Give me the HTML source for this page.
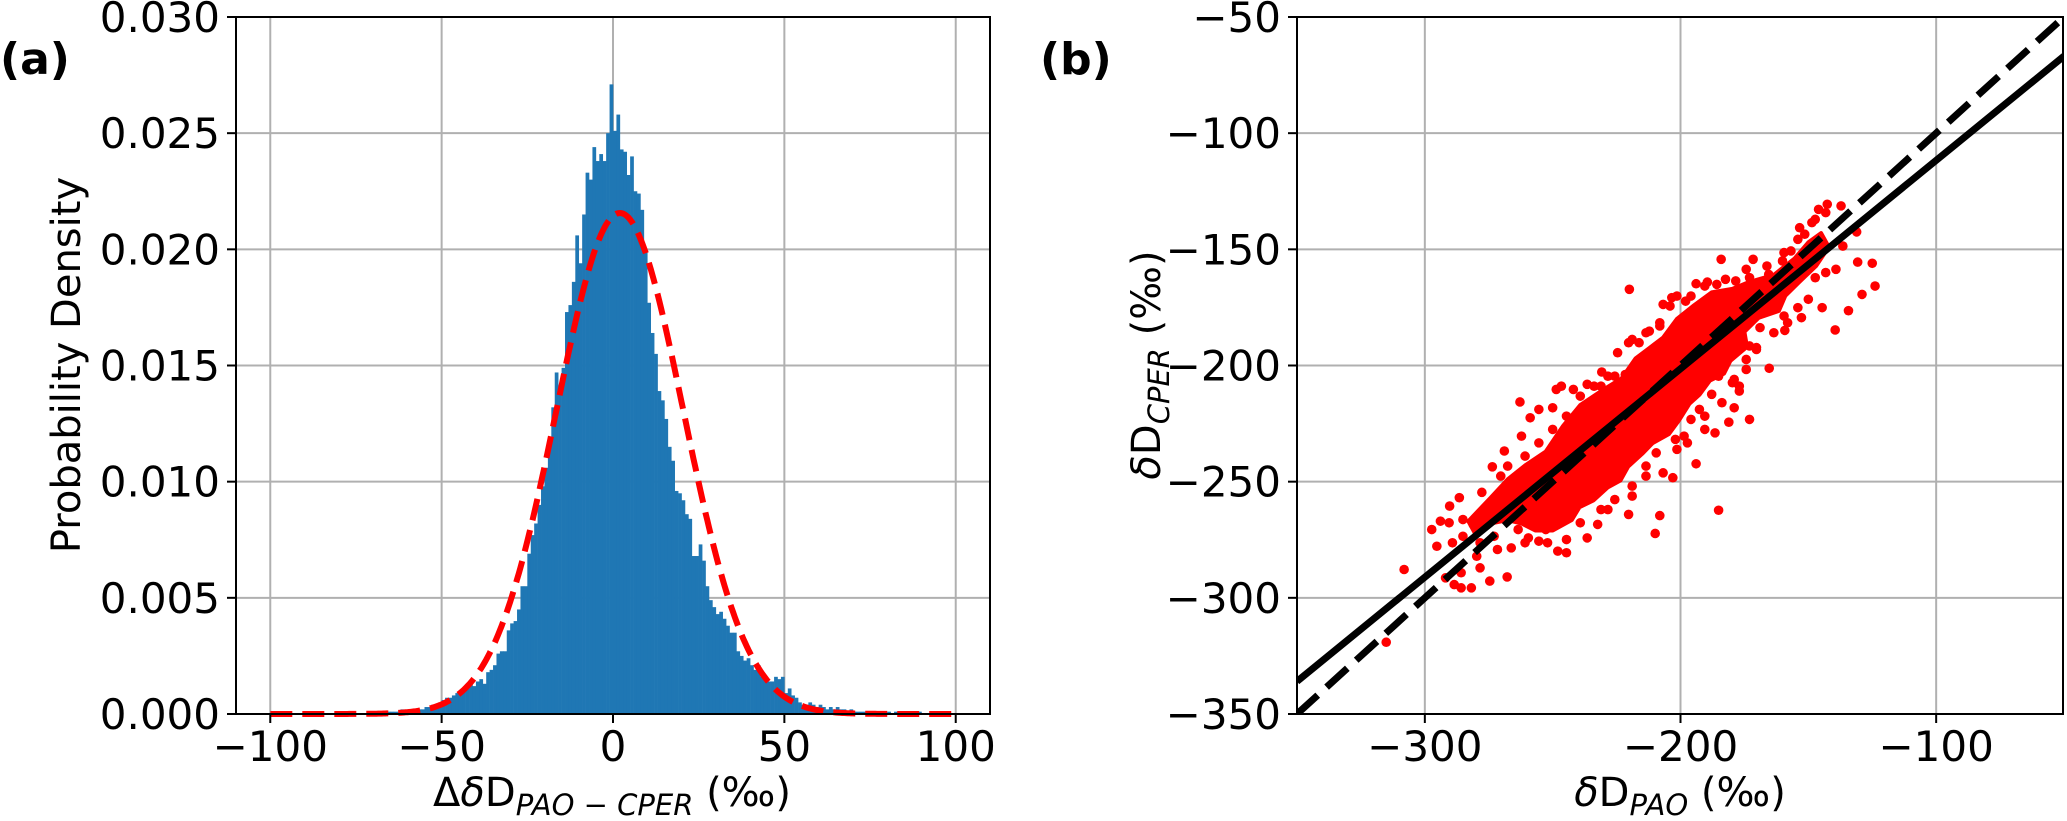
<!DOCTYPE html>
<html><head><meta charset="utf-8"><style>
html,body{margin:0;padding:0;background:#fff;}
svg{display:block;font-family:"DejaVu Sans","Liberation Sans",sans-serif;}
</style></head><body>
<svg id="fig" width="2067" height="821" viewBox="0 0 2067 821" xmlns="http://www.w3.org/2000/svg">
<g id="pa"></g>
<g id="pb"></g>
<text x="0" y="74" font-size="44" font-weight="bold">(a)</text>
<text x="1040" y="74" font-size="44" font-weight="bold">(b)</text>
<text transform="translate(80,365) rotate(-90)" text-anchor="middle" font-size="40">Probability Density</text>
<text x="612" y="806" text-anchor="middle" font-size="40">Δ<tspan font-style="italic">δ</tspan>D<tspan font-size="29" font-style="italic" dy="9">PAO − CPER</tspan><tspan dy="-9"> (‰)</tspan></text>
<text x="1680" y="806" text-anchor="middle" font-size="40"><tspan font-style="italic">δ</tspan>D<tspan font-size="29" font-style="italic" dy="9">PAO</tspan><tspan dy="-9"> (‰)</tspan></text>
<text transform="translate(1160,365) rotate(-90)" text-anchor="middle" font-size="40"><tspan font-style="italic">δ</tspan>D<tspan font-size="29" font-style="italic" dy="9">CPER</tspan><tspan dy="-9"> (‰)</tspan></text>
</svg>
<script>
// ---- Panel (a) data ----
const histStart = -70;
const histValues = [
0.0001,0,0.0001,0.0001,0.0001,0.0001,0.0001,0.0001,0.0002,0.0001,
0.0002,0.0001,0.0002,0.0002,0.0002,0.0003,0.0003,0.0004,0.0004,0.0005,
0.0006,0.0007,0.0007,0.0008,0.0009,0.0010,0.0010,0.0011,0.0013,0.0012,
0.0014,0.0015,0.0013,0.0018,0.0019,0.0021,0.0026,0.0027,0.0027,0.0036,
0.0039,0.0040,0.0045,0.0055,0.0055,0.0069,0.0077,0.0082,0.0090,0.0098,
0.0106,0.0119,0.0132,0.0147,0.0138,0.0149,0.0173,0.0176,0.0186,0.0206,
0.0194,0.0215,0.0233,0.0230,0.0244,0.0238,0.0241,0.0238,0.0250,0.0271,
0.0251,0.0258,0.0243,0.0242,0.0232,0.0240,0.0225,0.0224,0.0217,0.0199,
0.0177,0.0164,0.0155,0.0139,0.0135,0.0127,0.0115,0.0109,0.0096,0.0095,
0.0092,0.0086,0.0084,0.0068,0.0068,0.0073,0.0066,0.0055,0.0049,0.0046,
0.0043,0.0044,0.0041,0.0038,0.0035,0.0035,0.0027,0.0025,0.0023,0.0024,
0.0021,0.0019,0.0021,0.0016,0.0015,0.0014,0.0014,0.0016,0.0015,0.0016,
0.0009,0.0011,0.0008,0.0007,0.0005,0.0004,0.0004,0.0005,0.0004,0.0003,
0.0004,0.0003,0.0002,0.0003,0.0002,0.0003,0.0002,0.0002,0.0001,0.0002,
0.0001,0.0001,0.0001,0.0001,0.0001,0.0001,0,0.0001,0.0001,0,
0.0001,0,0.0001,0,0,0.0001,0.0001,0,0,0.0001];
const fitMean = 2;
const fitSigma = 18.5;
const aXTicks = [-100,-50,0,50,100];
const aYTicks = [0,0.005,0.010,0.015,0.020,0.025,0.030];
const aYTickLabels = ["0.000","0.005","0.010","0.015","0.020","0.025","0.030"];

// ---- Panel (b) data ----
const bXTicks = [-300,-200,-100];
const bYTicks = [-350,-300,-250,-200,-150,-100,-50];
const fitSlope = 0.897;
const fitIntercept = -22;
const coreOutline = [
[-283,-267],[-274.3,-257],[-267.6,-249],[-260.8,-243],[-252.7,-237],[-245.9,-226],
[-239.2,-217],[-231.1,-211],[-223.0,-205.5],[-217.6,-197],[-212.2,-192.5],[-206.8,-188],
[-201.4,-180],[-194.6,-174],[-187.8,-168.5],[-179.7,-167],[-173.0,-164],[-163.5,-161],
[-155.4,-154],[-150.0,-147],[-145,-143],[-142,-149],[-147,-157.2],[-153.5,-164],
[-159,-170],[-161.5,-176.5],[-169.5,-179.5],[-175,-185.5],[-174,-192],[-180.5,-198],
[-183,-203.5],[-188.5,-206.5],[-192.5,-212.5],[-196.5,-216.5],[-200.5,-223.5],[-204.5,-229.5],
[-211,-233.5],[-215,-238],[-220.5,-243.5],[-223.5,-249.5],[-228.5,-252.5],[-234,-258],
[-239.5,-261],[-242.5,-266.5],[-250,-271],[-256.8,-271],[-262.2,-268],[-267.6,-266.5],
[-274.3,-268],[-280,-273]];
const pointsX = [-308.1,-315.1,-220,-185.1,-209.9,-184.1,-123.9,-125,-130.7,-139.5,-134.3,-129,-173,-165.3,-159.2,-144.6,-152.7,-267.8,-274.6,-262.8,-224.6,-230.8,-193.9,-203,-208.1,-186.5,-181.1,-177,-139.2,-131.1,-142.6,-137.2,-146,-148.6,-153.4,-151.4,-156.8,-160.1,-171.6,-165.5,-173,-178.4,-185.8,-193.9,-189.5,-203.4,-206.8,-198,-147.3,-154.1,-159.5,-166.2,-168.9,-173,-170.3,-174.3,-179,-177,-179,-185.1,-187.8,-192.6,-190.5,-195.9,-202,-198.6,-209.5,-213.5,-218.9,-220.3,-228.4,-232.4,-236.5,-244.6,-248,-252,-255.4,-259.5,-263.5,-266.2,-272.9,-278.4,-279.7,-281.8,-285.8,-288.5,-291.9,-285.8,-293.9,-297.3,-295.3,-290.3,-286.5,-285.1,-289.2,-281.1,-277.7,-273.6,-268.9,-270.3,-266.2,-262.2,-258.8,-255.4,-250,-248.6,-246.6,-241.9,-236.5,-231.1,-225.7,-221.6,-218.9,-216.2,-212.2,-208.1,-202,-201.4,-197.3,
-252.7,-244.6,-239.2,-231.1,-225.7,-218.9,-213.5,-206.8,-201.4,-197.3,-190.5,-183.8,-179.7,-174.3,-170.3,-163.5,-158.1,-150,-143.2,-136.5,
-267.6,-260.8,-255.4,-250,-244.6,-239.2,-233.8,-228.4,-220.3,-213.5,-208.1,-204.1,-195.9,-190.5,-182.4,-174.3,-166.2,-159.5,-154.1,-147.3,-143.2,
-285.1,-290.5,-278.4,-271.6,-260.8];
const pointsY = [-287.8,-319.1,-167.2,-262.3,-272.3,-154.3,-165.8,-156,-155.5,-184.7,-176.4,-169.4,-223.2,-201.2,-184.9,-175.1,-179.4,-291,-292.8,-215.7,-194.5,-202.8,-242.3,-248.3,-264.6,-229,-224.4,-208.9,-158.6,-142.5,-130.6,-131.3,-132.8,-138.5,-140.7,-143.5,-150.7,-155,-154.3,-160.8,-162.2,-163.6,-165.1,-164.8,-164.1,-170.8,-173.7,-172.3,-162.2,-175.1,-178.7,-175.8,-183.7,-191.6,-192.3,-197.4,-206,-211,-218.2,-204.6,-212.4,-218.9,-227.5,-223.2,-231.8,-230.4,-237.6,-243.3,-256.2,-264.1,-262,-268.4,-274.2,-280.6,-279.9,-276.3,-275.6,-274.2,-270.6,-278.5,-273.5,-287.1,-282.1,-295.7,-295.7,-294.3,-291.4,-289.2,-267,-270.6,-277.8,-260.5,-256.9,-266.3,-276.3,-268.4,-254.6,-243.6,-236.8,-247.6,-251.9,-230.4,-222.5,-218.9,-218.2,-210.3,-208.9,-210.3,-208.1,-208.9,-204.6,-203.9,-188.8,-190.2,-185.2,-183,-183,-170.1,-178.7,
-270.6,-274.9,-267.7,-262,-257.7,-251.9,-247.6,-246.2,-236.1,-233.3,-221.8,-216,-207.4,-201.7,-193.1,-185.9,-181.6,-171.5,-160,-148.6,
-243.3,-239,-233.3,-227.5,-221.8,-213.2,-208.9,-204.6,-190.2,-185.9,-181.6,-174.4,-170.1,-165.8,-162.9,-158.6,-157.2,-151.4,-145.7,-137.1,-134.2,
-273.5,-267.7,-276.3,-279.2,-276.3];

const NS = "http://www.w3.org/2000/svg";
function mk(parent, tag, attrs){ const e=document.createElementNS(NS,tag); for(const k in attrs) e.setAttribute(k,attrs[k]); parent.appendChild(e); return e; }

// ---- Panel (a) ----
const A = {x0:236,x1:990,y0:17,y1:714,xmin:-110,xmax:110,ymin:0,ymax:0.030};
const ax = v => A.x0 + (v-A.xmin)/(A.xmax-A.xmin)*(A.x1-A.x0);
const ay = v => A.y1 - (v-A.ymin)/(A.ymax-A.ymin)*(A.y1-A.y0);
const pa = document.getElementById('pa');
const gridA = mk(pa,'g',{});


aXTicks.forEach(t=>{ const l=mk(gridA,'line',{x1:ax(t),x2:ax(t),y1:A.y0,y2:A.y1,stroke:'#b0b0b0','stroke-width':2});

 });
aYTicks.forEach(t=>{ const l=mk(gridA,'line',{x1:A.x0,x2:A.x1,y1:ay(t),y2:ay(t),stroke:'#b0b0b0','stroke-width':2});

 });
const barsA = mk(pa,'g',{});


histValues.forEach((v,i)=>{ if(v<=0) return; const s=histStart+i;
 const r=mk(barsA,'rect',{x:ax(s),y:ay(v),width:ax(s+1)-ax(s)+0.3,height:ay(0)-ay(v),fill:'#1f77b4'});
 
  });
let d='';
for(let x=-100;x<=100;x+=0.5){ const y=Math.exp(-0.5*((x-fitMean)/fitSigma)**2)/(fitSigma*Math.sqrt(2*Math.PI)); d+=(d?'L':'M')+ax(x).toFixed(1)+','+ay(y).toFixed(1); }
const fitA = mk(pa,'path',{d:d,fill:'none',stroke:'#ff0000','stroke-width':6,'stroke-dasharray':'22,10'});


const spA = mk(pa,'rect',{x:A.x0,y:A.y0,width:A.x1-A.x0,height:A.y1-A.y0,fill:'none',stroke:'#000','stroke-width':2});


aXTicks.forEach(t=>{ mk(pa,'line',{x1:ax(t),x2:ax(t),y1:A.y1,y2:A.y1+9,stroke:'#000','stroke-width':2});
 const tx=mk(pa,'text',{x:ax(t),y:761,'text-anchor':'middle','font-size':42}); tx.textContent=(t<0?'−':'')+Math.abs(t);
 
  });
aYTicks.forEach((t,i)=>{ mk(pa,'line',{x1:A.x0-9,x2:A.x0,y1:ay(t),y2:ay(t),stroke:'#000','stroke-width':2});
 const tx=mk(pa,'text',{x:220,y:ay(t)+15,'text-anchor':'end','font-size':42}); tx.textContent=aYTickLabels[i];
 
  });

// ---- Panel (b) ----
const B = {x0:1297,x1:2064,y0:17,y1:714,xmin:-350,xmax:-50,ymin:-350,ymax:-50};
const bx = v => B.x0 + (v-B.xmin)/(B.xmax-B.xmin)*(B.x1-B.x0);
const by = v => B.y1 - (v-B.ymin)/(B.ymax-B.ymin)*(B.y1-B.y0);
const pb = document.getElementById('pb');
const defs = mk(pb,'defs',{}); const cp = mk(defs,'clipPath',{id:'clipb'}); mk(cp,'rect',{x:B.x0,y:B.y0,width:B.x1-B.x0,height:B.y1-B.y0});
const gridB = mk(pb,'g',{});


bXTicks.forEach(t=>{ const l=mk(gridB,'line',{x1:bx(t),x2:bx(t),y1:B.y0,y2:B.y1,stroke:'#b0b0b0','stroke-width':2});

 });
bYTicks.forEach(t=>{ const l=mk(gridB,'line',{x1:B.x0,x2:B.x1,y1:by(t),y2:by(t),stroke:'#b0b0b0','stroke-width':2});

 });
const sc = mk(pb,'g',{'clip-path':'url(#clipb)'});


const core = mk(sc,'polygon',{points:coreOutline.map(p=>bx(p[0]).toFixed(1)+','+by(p[1]).toFixed(1)).join(' '),fill:'#ff0000',stroke:'#ff0000','stroke-width':4,'stroke-linejoin':'round'});


pointsX.forEach((x,i)=>{ const c=mk(sc,'circle',{cx:bx(x),cy:by(pointsY[i]),r:4.8,fill:'#ff0000'});
 
  });
const lines = mk(pb,'g',{'clip-path':'url(#clipb)'});
const one = mk(lines,'line',{x1:bx(-350),y1:by(-350),x2:bx(-50),y2:by(-50),stroke:'#000','stroke-width':7,'stroke-dasharray':'28,12'});


const reg = mk(lines,'line',{x1:bx(-350),y1:by(fitSlope*-350+fitIntercept),x2:bx(-50),y2:by(fitSlope*-50+fitIntercept),stroke:'#000','stroke-width':7});


const spB = mk(pb,'rect',{x:B.x0,y:B.y0,width:B.x1-B.x0-1,height:B.y1-B.y0,fill:'none',stroke:'#000','stroke-width':2});


bXTicks.forEach(t=>{ mk(pb,'line',{x1:bx(t),x2:bx(t),y1:B.y1,y2:B.y1+9,stroke:'#000','stroke-width':2});
 const tx=mk(pb,'text',{x:bx(t),y:761,'text-anchor':'middle','font-size':42}); tx.textContent='−'+Math.abs(t);
 
  });
bYTicks.forEach(t=>{ mk(pb,'line',{x1:B.x0-9,x2:B.x0,y1:by(t),y2:by(t),stroke:'#000','stroke-width':2});
 const tx=mk(pb,'text',{x:1281,y:by(t)+15,'text-anchor':'end','font-size':42}); tx.textContent='−'+Math.abs(t);
 
  });
</script>
</body></html>
